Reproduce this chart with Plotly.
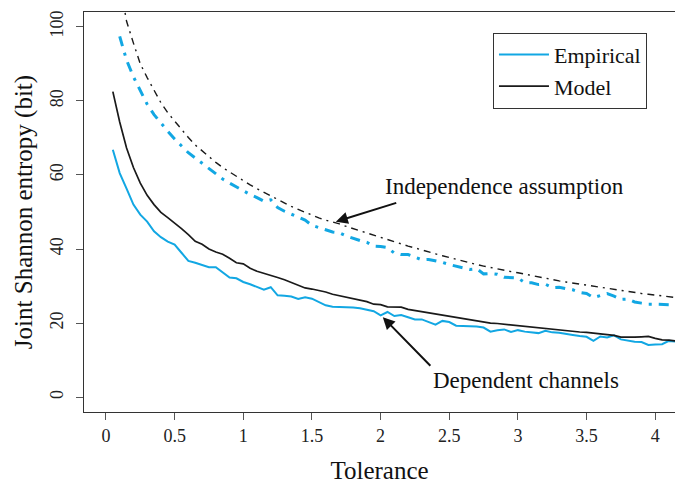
import plotly.graph_objects as go

tolerance = [round(0.05 * i, 2) for i in range(1, 84)]  # 0.05 .. 4.15

empirical_dependent = [
    66.8, 60.5, 56.3, 52.0, 49.3, 47.4, 44.8, 43.2, 42.0, 41.2,
    39.0, 36.8, 36.3, 35.7, 35.1, 35.1, 33.6, 32.3, 32.1, 31.1,
    30.5, 29.8, 29.0, 29.7, 27.5, 27.4, 27.2, 26.5, 27.0, 26.6,
    25.7, 24.8, 24.4, 24.4, 24.3, 24.2, 24.0, 23.6, 23.2, 22.1,
    23.0, 21.9, 22.2, 21.6, 21.0, 21.0, 20.4, 19.6, 20.6, 20.3,
    19.3, 19.2, 19.3, 19.1, 18.8, 17.7, 18.1, 18.3, 17.6, 18.1,
    17.7, 17.4, 17.3, 17.9, 17.5, 17.4, 17.2, 16.8, 16.5, 16.3,
    15.2, 16.4, 16.1, 16.7, 15.6, 15.2, 15.0, 14.9, 14.1, 14.2,
    14.3, 15.2, 15.0]

model_dependent = [
    82.5, 74.3, 67.3, 62.0, 57.8, 54.5, 52.0, 49.9, 48.5, 47.1,
    45.5, 43.9, 42.1, 41.3, 40.0, 39.2, 38.6, 37.5, 36.3, 36.0,
    34.8, 34.0, 33.5, 32.9, 32.3, 31.7, 31.0, 30.2, 29.5, 29.2,
    28.9, 28.4, 27.8, 27.4, 27.0, 26.6, 26.3, 25.8, 25.1, 25.0,
    24.4, 24.4, 24.3, 23.7, 23.4, 23.1, 22.6, 22.5, 22.1, 21.7,
    21.4, 21.2, 20.8, 20.6, 20.4, 20.0, 19.9, 19.7, 19.6, 19.4,
    19.2, 18.9, 18.6, 18.4, 18.3, 18.1, 17.9, 17.8, 17.6, 17.5,
    17.3, 17.1, 17.0, 16.7, 16.2, 16.1, 16.2, 16.3, 16.4, 15.9,
    15.5, 15.4, 15.2]

tolerance_indep = tolerance[1:]  # 0.10 .. 4.15

empirical_independent = [
    97.4, 91.0, 86.5, 82.8, 79.1, 76.3, 73.9, 71.8, 69.7,
    67.8, 66.0, 64.6, 63.2, 61.6, 60.2, 58.9, 57.8, 56.7, 55.6,
    54.7, 53.9, 52.9, 53.3, 51.2, 50.2, 49.4, 48.8, 47.8, 46.4,
    45.9, 45.2, 44.6, 44.4, 43.5, 42.8, 42.3, 41.8, 40.8, 40.7,
    40.4, 38.9, 38.5, 38.5, 37.8, 37.1, 37.2, 36.9, 36.4, 35.8,
    35.4, 34.9, 34.5, 34.7, 33.3, 33.4, 33.2, 32.4, 32.3, 32.2,
    30.9, 30.9, 30.4, 30.5, 29.6, 29.7, 29.3, 29.0, 28.3, 28.0,
    26.9, 27.4, 28.0, 27.3, 26.4, 26.5, 25.7, 25.4, 25.1, 25.1,
    25.0, 24.8, 24.9]

model_independent = [
    112.0, 101.5, 95.6, 90.0, 86.3, 82.7, 79.5, 76.8, 74.5,
    72.2, 70.1, 68.1, 66.5, 64.9, 63.4, 62.0, 60.8, 59.6, 58.4,
    57.3, 56.3, 55.3, 54.4, 53.3, 52.4, 51.5, 50.7, 49.9, 49.1,
    48.4, 47.8, 47.4, 46.8, 46.1, 45.5, 44.9, 44.3, 43.7, 43.0,
    42.5, 42.0, 41.4, 40.8, 40.3, 39.7, 39.1, 38.7, 38.2, 37.7,
    37.2, 36.8, 36.4, 35.8, 35.4, 35.0, 34.6, 34.2, 33.9, 33.6,
    33.2, 32.8, 32.5, 32.1, 31.8, 31.4, 31.1, 30.8, 30.5, 30.2,
    29.9, 29.6, 29.3, 29.1, 28.8, 28.5, 28.3, 28.0, 27.8, 27.6,
    27.4, 27.1, 26.9]

x_ticks = [0, 0.5, 1, 1.5, 2, 2.5, 3, 3.5, 4]
x_ticktext = ["0", "0.5", "1", "1.5", "2", "2.5", "3", "3.5", "4"]
y_ticks = [0, 20, 40, 60, 80, 100]
y_ticktext = ["0", "20", "40", "60", "80", "100"]

BLUE = "#12A7E3"
BLACK = "#1a1a1a"
FONT = "serif"

fig = go.Figure()
fig.add_trace(go.Scatter(x=tolerance_indep, y=empirical_independent, mode="lines",
                         line=dict(color=BLUE, width=3, dash="10px,7px,3px,7px"),
                         showlegend=False))
fig.add_trace(go.Scatter(x=tolerance_indep, y=model_independent, mode="lines",
                         line=dict(color=BLACK, width=1.4, dash="7px,5px,2px,5px"),
                         showlegend=False))
fig.add_trace(go.Scatter(x=tolerance, y=empirical_dependent, mode="lines",
                         line=dict(color=BLUE, width=2), name="Empirical"))
fig.add_trace(go.Scatter(x=tolerance, y=model_dependent, mode="lines",
                         line=dict(color=BLACK, width=1.7), name="Model"))

annotations = [
    dict(x=2.904, y=57.0, text="Independence assumption", showarrow=False,
         font=dict(size=23, family=FONT, color="#111")),
    dict(x=1.674, y=47.4, ax=2.125, ay=52.6, axref="x", ayref="y", xref="x", yref="y",
         text="", showarrow=True, arrowhead=2, arrowsize=1.2, arrowwidth=2, arrowcolor="#111"),
    dict(x=3.057, y=4.6, text="Dependent channels", showarrow=False,
         font=dict(size=23, family=FONT, color="#111")),
    dict(x=2.016, y=21.6, ax=2.373, ay=8.1, axref="x", ayref="y", xref="x", yref="y",
         text="", showarrow=True, arrowhead=2, arrowsize=1.2, arrowwidth=2, arrowcolor="#111"),
]

fig.update_layout(
    width=675, height=484,
    margin=dict(l=84, r=0, t=12, b=72),
    paper_bgcolor="white", plot_bgcolor="white",
    font=dict(family=FONT, color="#111"),
    annotations=annotations,
    legend=dict(x=0.692, y=0.948, xanchor="left", yanchor="top",
                bordercolor="#333", borderwidth=1, bgcolor="white",
                font=dict(size=22, family=FONT), tracegroupgap=0,
                itemwidth=50),
    xaxis=dict(range=[-0.16, 4.144], tickvals=x_ticks, ticktext=x_ticktext,
               ticks="outside", ticklen=7, tickcolor="#555", tickwidth=1,
               showline=True, linecolor="#333", linewidth=1.3, mirror=True,
               showgrid=False, zeroline=False, automargin=False,
               tickfont=dict(size=18, family=FONT, color="#222"),
               title=dict(text="Tolerance", font=dict(size=25, family=FONT), standoff=16)),
    yaxis=dict(range=[-4, 104], tickvals=y_ticks, ticktext=y_ticktext, tickangle=-90,
               ticks="outside", ticklen=7, tickcolor="#555", tickwidth=1,
               showline=True, linecolor="#333", linewidth=1.3,
               showgrid=False, zeroline=False, ticklabelstandoff=6, automargin=False,
               tickfont=dict(size=18, family=FONT, color="#222"),
               title=dict(text="Joint Shannon entropy (bit)", font=dict(size=25, family=FONT), standoff=6)),
)

fig.write_html("out.html", post_script="document.body.style.margin='0';",
               config={"displayModeBar": False})
